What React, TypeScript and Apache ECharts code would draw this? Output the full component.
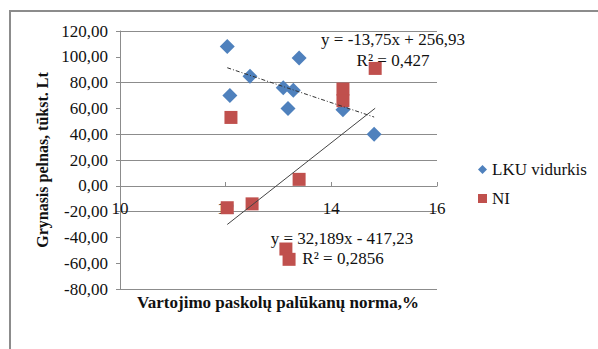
import React, { useEffect, useRef } from "react";
import * as echarts from "echarts";

const lkuX = [12.03, 12.08, 12.46, 13.09, 13.28, 13.18, 13.39, 14.22, 14.81];
const lkuY = [108, 70, 85, 76, 74, 60, 99, 59, 40];
const niX = [12.1, 12.03, 12.5, 13.39, 13.14, 13.2, 14.22, 14.22, 14.83];
const niY = [53, -17, -14, 5, -49, -57, 75, 66, 91];
const lkuTrend = [-13.75, 256.93];
const niTrend = [32.189, -417.23];
const lkuEq = ["y = -13,75x + 256,93", "R² = 0,427"];
const niEq = ["y = 32,189x - 417,23", "R² = 0,2856"];
const seriesNames = ["LKU vidurkis", "NI"];
const xTitle = "Vartojimo paskolų palūkanų norma,%";
const yTitle = "Grynasis pelnas, tūkst. Lt";
// visible gridlines by tick index from -80 upward (others faded in the source)
const gridVisible = [1, 0, 0, 1, 1, 1, 1, 0, 1, 0, 1];

const FONT = "'Liberation Serif', 'Times New Roman', serif";

function trendLine(xs: number[], coef: number[]) {
  const a = Math.min(...xs);
  const b = Math.max(...xs);
  return [
    [a, coef[0] * a + coef[1]],
    [b, coef[0] * b + coef[1]],
  ];
}

export default function App() {
  const ref = useRef<HTMLDivElement>(null);
  useEffect(() => {
    if (!ref.current) return;
    const chart = echarts.init(ref.current, null, { renderer: "svg" });
    const eqStyle = { fontFamily: FONT, fontSize: 17, fill: "#111", textAlign: "center", textVerticalAlign: "middle" };
    chart.setOption({
      animation: false,
      backgroundColor: "#fff",
      grid: { left: 120, right: 161, top: 31, bottom: 60 },
      xAxis: {
        type: "value",
        min: 10,
        max: 16,
        interval: 2,
        offset: -103,
        axisLine: { onZero: false, lineStyle: { color: "#8c8c8c", width: 1 } },
        axisTick: { show: true, inside: true, length: 4, lineStyle: { color: "#8c8c8c" } },
        axisLabel: { margin: 14, fontFamily: FONT, fontSize: 17, color: "#111" },
        splitLine: { show: false },
      },
      yAxis: {
        type: "value",
        min: -80,
        max: 120,
        interval: 20,
        name: yTitle,
        nameLocation: "middle",
        nameGap: 70,
        nameTextStyle: { fontFamily: FONT, fontSize: 16, fontWeight: "bold", color: "#111" },
        axisLine: { show: true, onZero: false, lineStyle: { color: "#8c8c8c" } },
        axisTick: { show: true, length: 4, lineStyle: { color: "#8c8c8c" } },
        axisLabel: {
          margin: 12,
          fontFamily: FONT,
          fontSize: 17,
          color: "#111",
          formatter: (v: number) => v.toFixed(2).replace(".", ","),
        },
        splitLine: {
          show: true,
          lineStyle: { color: gridVisible.map((g) => (g ? "#8c8c8c" : "rgba(0,0,0,0)")), width: 1 },
        },
      },
      legend: {
        orient: "vertical",
        left: 473,
        top: 156,
        itemWidth: 9,
        itemHeight: 9,
        itemGap: 12,
        textStyle: { fontFamily: FONT, fontSize: 17, color: "#111" },
        data: [
          { name: seriesNames[0], icon: "diamond" },
          { name: seriesNames[1], icon: "rect" },
        ],
      },
      graphic: [
        {
          type: "rect",
          z: -10,
          shape: { x: 10, y: 11, width: 800, height: 600 },
          style: { fill: "none", stroke: "#8c8c8c", lineWidth: 2 },
        },
        { type: "text", z: 0, x: 393, y: 39, style: { text: lkuEq[0], ...eqStyle } },
        { type: "text", z: 0, x: 393, y: 60, style: { text: lkuEq[1], ...eqStyle } },
        { type: "text", z: 0, x: 342, y: 238, style: { text: niEq[0], ...eqStyle } },
        { type: "text", z: 0, x: 343, y: 258, style: { text: niEq[1], ...eqStyle } },
        {
          type: "text",
          z: 0,
          x: 278,
          y: 302,
          style: {
            text: xTitle,
            fontFamily: FONT,
            fontSize: 17,
            fontWeight: "bold",
            fill: "#111",
            textAlign: "center",
            textVerticalAlign: "middle",
          },
        },
      ],
      series: [
        {
          name: seriesNames[0],
          type: "scatter",
          symbol: "diamond",
          symbolSize: 15,
          z: 2,
          itemStyle: { color: "#4f81bd", opacity: 1 },
          data: lkuX.map((x, i) => [x, lkuY[i]]),
        },
        {
          name: seriesNames[1],
          type: "scatter",
          symbol: "rect",
          symbolSize: 13,
          z: 3,
          itemStyle: { color: "#c0504d", opacity: 1 },
          data: niX.map((x, i) => [x, niY[i]]),
        },
        {
          name: "trendLKU",
          type: "line",
          z: 4,
          symbol: "none",
          silent: true,
          lineStyle: { color: "#333", width: 1, type: [4, 2, 1, 2] },
          data: trendLine(lkuX, lkuTrend),
        },
        {
          name: "trendNI",
          type: "line",
          z: 4,
          symbol: "none",
          silent: true,
          lineStyle: { color: "#444", width: 1, type: "solid" },
          data: trendLine(niX, niTrend),
        },
      ],
    });
    return () => chart.dispose();
  }, []);
  return (
    <div
      ref={ref}
      style={{ position: "fixed", left: 0, top: 0, width: 598, height: 349 }}
    />
  );
}
